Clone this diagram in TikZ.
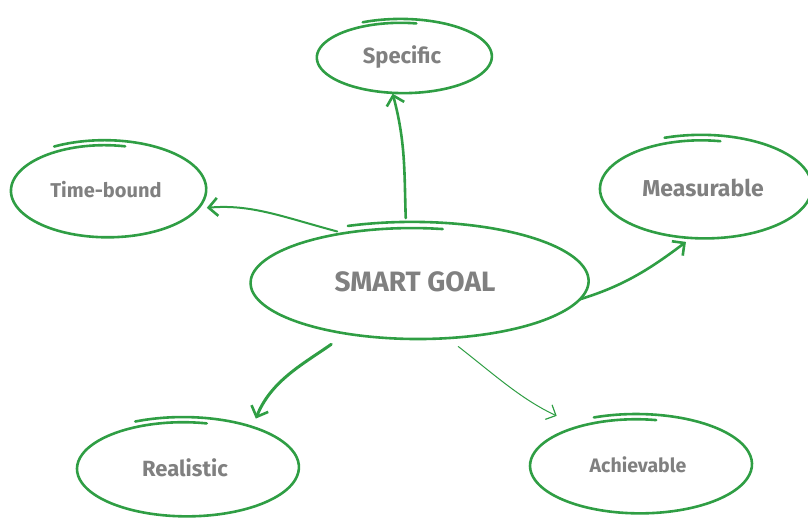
\documentclass[tikz,border=0pt]{standalone}
\usepackage{fontspec}
\setmainfont{Fira Sans}
\usetikzlibrary{shapes.geometric,arrows.meta}
\definecolor{hgreen}{RGB}{47,158,68}
\definecolor{hgray}{RGB}{128,128,128}
\tikzset{
  hand/.style={draw=hgreen, line width=2.6pt, line cap=round, line join=round},
  blob/.style={ellipse, draw=none, outer sep=0pt, inner sep=0pt, text=hgray},
  link/.style={draw=hgreen, line width=2.6pt, line cap=round,
    -{Straight Barb[length=9pt,width=18pt,line width=2.6pt]}},
  thinlink/.style={draw=hgreen, line width=1pt, line cap=round,
    -{Straight Barb[length=8pt,width=16pt,line width=1.2pt]}},
}
% cx, cy (pixel, y down), rx, ry, start angle, end angle
\newcommand{\handell}[6]{%
  \draw[hand] plot[smooth,domain=#5:#6,samples=90,variable=\t]
   ({#1+#3*(1.08-0.12*(\t-(#5))/((#6)-(#5)))*cos(\t)},
    {-(#2+#4*(1.08-0.12*(\t-(#5))/((#6)-(#5)))*sin(\t))});}
\begin{document}
\begin{tikzpicture}[x=1pt,y=1pt]
\useasboundingbox (0,0) rectangle (808,-518);
% shapes
\handell{402}{57}{86}{35.5}{-115}{280}
\handell{106}{190}{96}{46.5}{-120}{282}
\handell{703}{188}{104}{49.5}{-110}{280}
\handell{415}{282}{166}{56}{-112}{280}
\handell{185}{468}{109}{47.5}{-115}{282}
\handell{638}{465}{109}{47.5}{-112}{280}
% nodes
\node[blob, minimum width=174pt, minimum height=72pt, font=\bfseries\fontsize{22}{26}\selectfont] (spec) at (402,-57) {Specific};
\node[blob, minimum width=194pt, minimum height=94pt, font=\bfseries\fontsize{20}{24}\selectfont] (time) at (106,-190) {Time-bound};
\node[blob, minimum width=210pt, minimum height=100pt, font=\bfseries\fontsize{23}{27}\selectfont] (meas) at (703,-188) {Measurable};
\node[blob, minimum width=336pt, minimum height=114pt, font=\bfseries\fontsize{28}{32}\selectfont] (smart) at (415,-282) {SMART GOAL};
\node[blob, minimum width=220pt, minimum height=96pt, font=\bfseries\fontsize{22}{26}\selectfont] (real) at (185,-468) {Realistic};
\node[blob, minimum width=220pt, minimum height=96pt, font=\bfseries\fontsize{19.5}{23}\selectfont] (achi) at (638,-465) {Achievable};
% connectors
\draw[link, shorten <=7pt, shorten >=1pt] (smart.99) to[out=92,in=-75] (spec.-105);
\draw[link, line width=2pt, shorten >=12pt] (smart.147) to[out=165,in=5] (time.-12);
\draw[link, shorten <=7pt, shorten >=7pt] (smart.-7) to[out=17,in=-143] (meas.-103);
\draw[link, line width=3pt, shorten <=18pt, shorten >=12pt] (smart.-143) to[out=-145,in=68] (real.30);
\draw[thinlink, shorten <=14pt, shorten >=22pt] (smart.-60) to[out=-38,in=155] (achi.147);
\end{tikzpicture}
\end{document}
